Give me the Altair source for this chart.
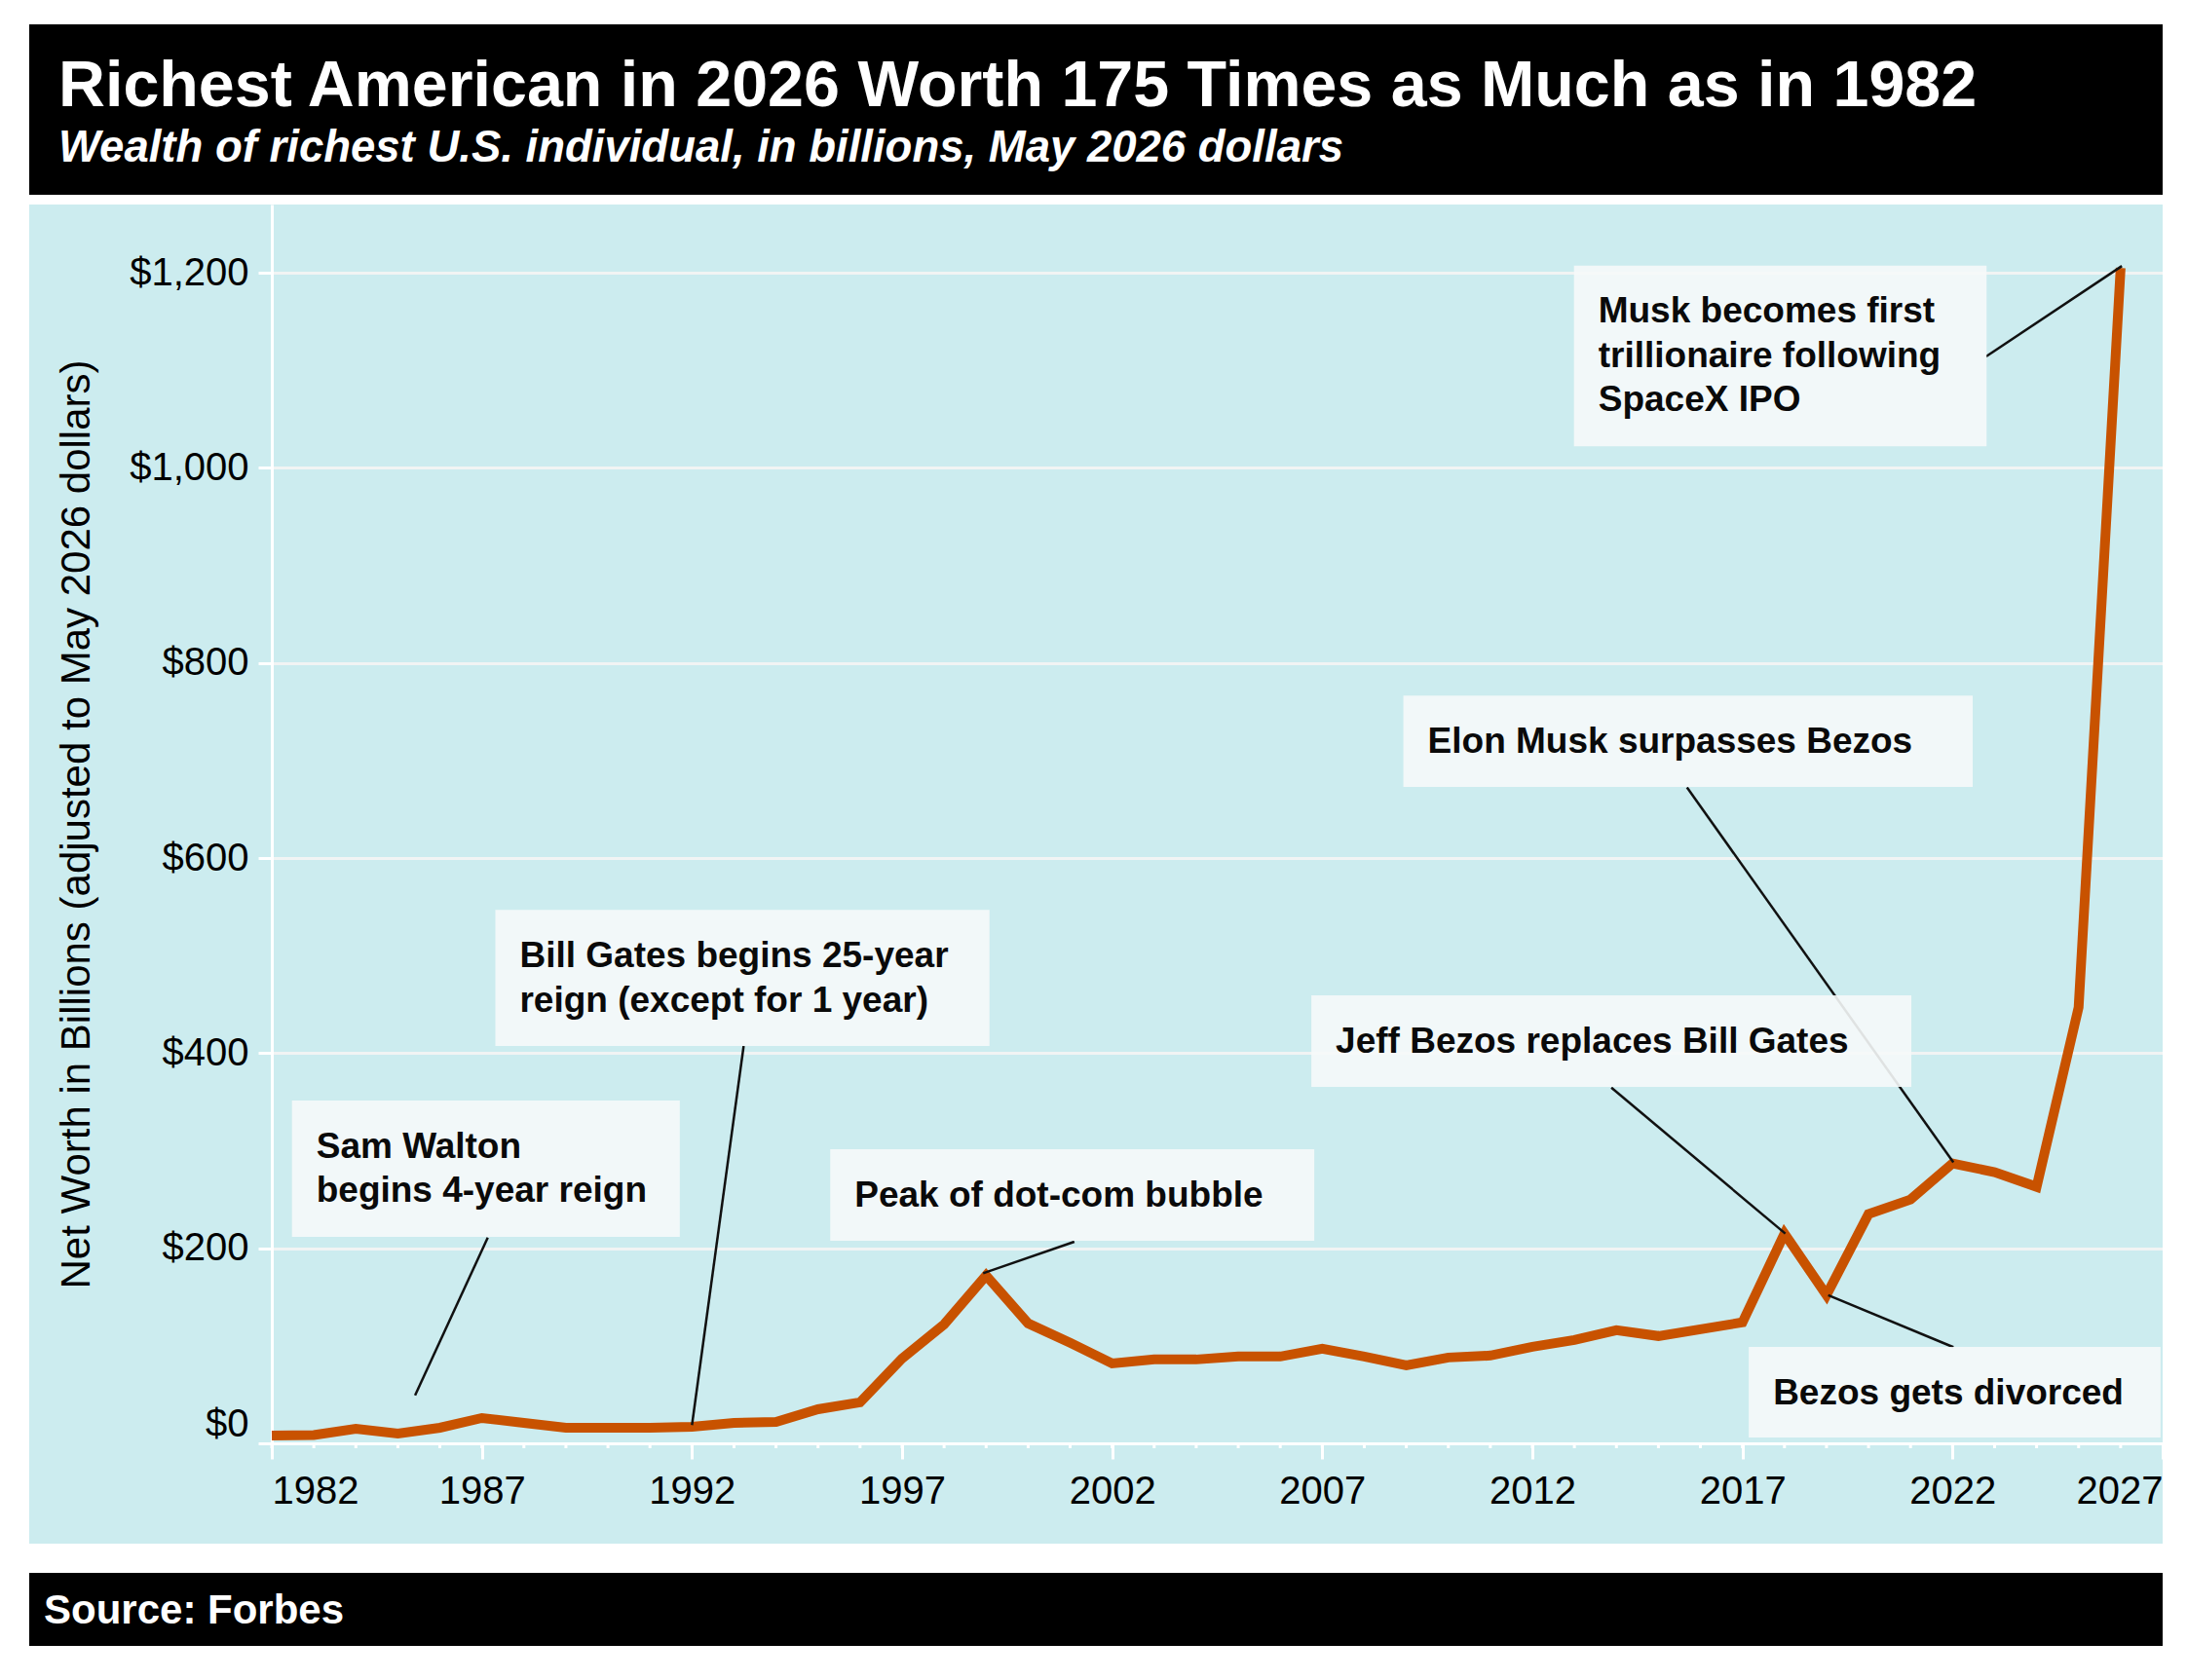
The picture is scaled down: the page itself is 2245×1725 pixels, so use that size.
import altair as alt
import pandas as pd

# ---------------- data ----------------
years = list(range(1982, 2027))
wealth = [8, 8.5, 15, 10, 16, 26, 21, 16, 16, 16,
          17, 21, 22, 35, 42, 87, 122, 172, 123, 103,
          82, 86, 86, 89, 89, 97, 89, 80, 88, 90,
          99, 106, 116, 110, 117, 124, 215, 152, 235, 250,
          287, 278, 263, 447, 1205]

x_ticks = [1982, 1987, 1992, 1997, 2002, 2007, 2012, 2017, 2022, 2027]
y_ticks = [0, 200, 400, 600, 800, 1000, 1200]

note_text = [
    "Sam Walton\nbegins 4-year reign",
    "Bill Gates begins 25-year\nreign (except for 1 year)",
    "Peak of dot-com bubble",
    "Jeff Bezos replaces Bill Gates",
    "Elon Musk surpasses Bezos",
    "Musk becomes first\ntrillionaire following\nSpaceX IPO",
    "Bezos gets divorced",
]
box_x1 = [1982.48, 1987.32, 1995.29, 2006.74, 2008.93, 2012.99, 2017.15]
box_x2 = [1991.71, 1999.08, 2006.81, 2021.02, 2022.48, 2022.81, 2026.95]
box_top = [351.4, 546.8, 301.5, 459.3, 766.5, 1207.4, 98.8]
box_bottom = [211.7, 407.4, 207.7, 365.4, 672.9, 1022.1, 6.0]

lead_x1 = [1987.14, 1993.23, 2001.10, 2013.88, 2015.68, 2022.80, 2022.02]
lead_y1 = [211.0, 407.4, 206.7, 364.6, 672.4, 1114.2, 98.6]
lead_x2 = [1985.41, 1992.00, 1998.93, 2018.02, 2022.02, 2026.03, 2019.04]
lead_y2 = [49.2, 18.7, 174.4, 215.0, 288.0, 1207.0, 151.8]

title_text = "Richest American in 2026 Worth 175 Times as Much as in 1982"
subtitle_text = "Wealth of richest U.S. individual, in billions, May 2026 dollars"
source_text = "Source: Forbes"
y_title = "Net Worth in Billions (adjusted to May 2026 dollars)"

# ---------------- style / layout ----------------
FONT = "Liberation Sans"
BG = "#ccecef"
ORANGE = "#c85200"
GRID = "#f1f4f4"
PLOT_W = 1941
PLOT_H = 1272
PAD_L, PAD_T, PAD_R, PAD_B = 271, 202, 13, 218

df = pd.DataFrame({"year": years, "wealth": wealth})
notes = pd.DataFrame({"label": note_text, "bx1": box_x1, "bx2": box_x2,
                      "btop": box_top, "bbot": box_bottom})
leads = pd.DataFrame({"lx1": lead_x1, "ly1": lead_y1, "lx2": lead_x2, "ly2": lead_y2})
one = pd.DataFrame({"k": [0]})

xs = alt.Scale(domain=[1982, 2027], nice=False, zero=False)
ys = alt.Scale(domain=[0, 1270], nice=False, zero=False)

x_axis = alt.Axis(values=x_ticks, format="d", labelFlush=True, tickSize=16, tickWidth=3,
                  tickColor="white", domainColor="white", domainWidth=3, grid=False,
                  labelFontSize=40, labelPadding=13, labelColor="black", labelFont=FONT,
                  title="")
y_axis = alt.Axis(values=y_ticks, format="$,d", labelFlush=True, tickSize=14, tickWidth=3,
                  tickColor="white", domainColor="white", domainWidth=3, grid=True,
                  gridColor=GRID, gridWidth=3, labelFontSize=40, labelPadding=10,
                  labelColor="black", labelFont=FONT, title=y_title, titleFont=FONT,
                  titleFontSize=42, titleFontWeight="normal", titleColor="black",
                  titleAngle=270, titleAlign="center", titleBaseline="alphabetic",
                  titleX=-188, titleY=636)

line = alt.Chart(df).mark_line(color=ORANGE, strokeWidth=10).encode(
    x=alt.X("year:Q", scale=xs, axis=x_axis),
    y=alt.Y("wealth:Q", scale=ys, axis=y_axis),
)

minor = alt.Chart(df).mark_rule(color="white", strokeWidth=3).encode(
    x=alt.X("year:Q", scale=xs, axis=x_axis),
    y=alt.value(PLOT_H), y2=alt.value(PLOT_H + 5),
)

leaders = alt.Chart(leads).mark_rule(color="#111111", strokeWidth=2.5).encode(
    x=alt.X("lx1:Q", scale=xs, axis=x_axis), x2="lx2:Q",
    y=alt.Y("ly1:Q", scale=ys, axis=y_axis), y2="ly2:Q",
)

boxes = alt.Chart(notes).mark_rect(fill="#f6f9fa", opacity=0.9).encode(
    x=alt.X("bx1:Q", scale=xs, axis=x_axis), x2="bx2:Q",
    y=alt.Y("btop:Q", scale=ys, axis=y_axis), y2="bbot:Q",
)

box_text = alt.Chart(notes).mark_text(
    align="left", baseline="alphabetic", dx=25, dy=58.7, fontSize=37,
    fontWeight="bold", font=FONT, lineHeight=45.5, lineBreak="\n", color="#0a0a0a",
).encode(
    x=alt.X("bx1:Q", scale=xs, axis=x_axis),
    y=alt.Y("btop:Q", scale=ys, axis=y_axis),
    text="label:N",
)


def panel(x1, x2, y1, y2, color):
    return alt.Chart(one).mark_rect(color=color, strokeWidth=0).encode(
        x=alt.value(x1), x2=alt.value(x2), y=alt.value(y1), y2=alt.value(y2))


def label(txt, x, y, size, style="normal"):
    return alt.Chart(one).mark_text(
        text=txt, align="left", baseline="alphabetic", fontSize=size,
        fontWeight="bold", fontStyle=style, font=FONT, color="white",
    ).encode(x=alt.value(x), y=alt.value(y))


L, R = -PAD_L, PLOT_W + PAD_R
B = PLOT_H + PAD_B
decor = [
    panel(L, R, -PAD_T, -185, "white"),         # top margin
    panel(L, -249, -PAD_T, B, "white"),         # left margin
    panel(PLOT_W, R, -PAD_T, B, "white"),       # right margin
    panel(L, R, -10, 0, "white"),               # gap under header
    panel(L, R, 1375, 1405, "white"),           # gap above footer
    panel(L, R, 1480, B, "white"),              # bottom margin
    panel(-249, PLOT_W, -185, -10, "black"),    # header
    panel(-249, PLOT_W, 1405, 1480, "black"),   # footer
    label(title_text, -219, -100.7, 66.4),
    label(subtitle_text, -219, -44.3, 45.5, "italic"),
    label(source_text, -234, 1457, 42),
]

chart = alt.layer(line, minor, leaders, boxes, box_text, *decor).properties(
    width=PLOT_W, height=PLOT_H,
    padding={"left": PAD_L, "top": PAD_T, "right": PAD_R, "bottom": PAD_B},
    autosize=alt.AutoSizeParams(type="none"),
    background=BG,
).configure_view(strokeWidth=0)

chart.save("out.html", embed_options={"renderer": "svg", "actions": False})
